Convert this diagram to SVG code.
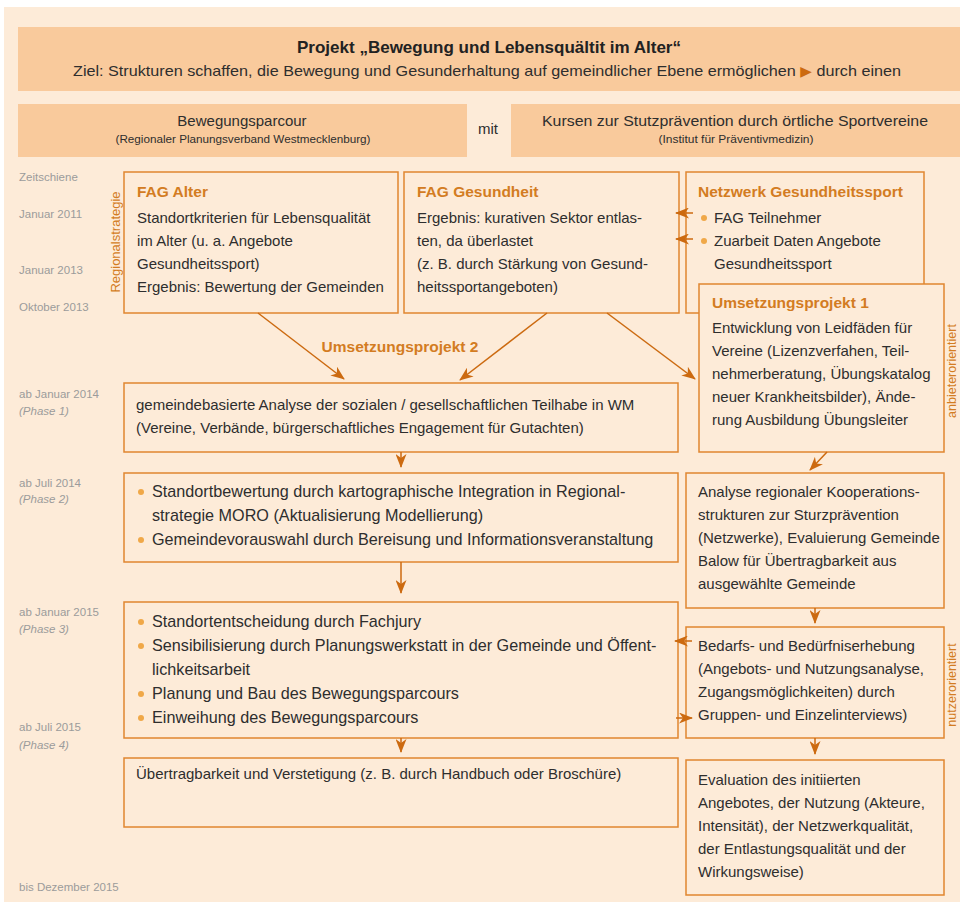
<svg xmlns="http://www.w3.org/2000/svg" width="960" height="902" viewBox="0 0 960 902">
<style>
text{font-family:"Liberation Sans",Arial,sans-serif;}
.bg{fill:#FDEBD8;}
.band{fill:#F9CA9C;}
.box{fill:#FDEBD8;stroke:#E0862F;stroke-width:1.5;}
.t{font-size:15px;fill:#2E2E2E;}
.tb{font-size:16.2px;fill:#2E2E2E;}
.h{font-size:15.5px;font-weight:bold;fill:#D37C22;}
.tl{font-size:11.5px;fill:#9B9B9B;}
.it{font-style:italic;}
.side{font-size:13px;fill:#D37C22;}
.side2{font-size:12.5px;fill:#D37C22;}
.sm{font-size:11px;fill:#2E2E2E;}
.dot{fill:#F0A848;}
.c{stroke:#CC6A10;stroke-width:1.5;fill:none;marker-end:url(#ah);}
</style>
<defs>
<marker id="ah" markerUnits="userSpaceOnUse" markerWidth="14" markerHeight="11" refX="13" refY="5.5" orient="auto">
<path d="M0,0 L14,5.5 L0,11 L4,5.5 z" fill="#CC6A10"/>
</marker>
</defs>
<rect x="0" y="0" width="960" height="902" fill="#ffffff"/>
<rect class="bg" x="4" y="7" width="956" height="895"/>

<g id="header">
<rect class="band" x="18" y="27" width="942" height="64"/>
<text x="489" y="52.5" text-anchor="middle" font-size="16.5" font-weight="bold" fill="#222" textLength="384" lengthAdjust="spacingAndGlyphs">Projekt „Bewegung und Lebensquältit im Alter“</text>
<text x="73" y="76" font-size="15" fill="#2E2E2E" textLength="828" lengthAdjust="spacingAndGlyphs">Ziel: Strukturen schaffen, die Bewegung und Gesunderhaltung auf gemeindlicher Ebene ermöglichen <tspan fill="#CC6A10" font-family="DejaVu Sans, sans-serif" font-size="14">▶</tspan> durch einen</text>
</g>

<g id="bewegungsparcour">
<rect class="band" x="18" y="104" width="449" height="53"/>
<text class="t" x="242" y="126" text-anchor="middle">Bewegungsparcour</text>
<text class="sm" x="243" y="143" text-anchor="middle" textLength="255" lengthAdjust="spacingAndGlyphs">(Regionaler Planungsverband Westmecklenburg)</text>
</g>
<g id="mit"><text class="t" x="488" y="134" text-anchor="middle">mit</text></g>
<g id="kursen">
<rect class="band" x="511" y="104" width="449" height="53"/>
<text class="t" x="735" y="126" text-anchor="middle" textLength="386" lengthAdjust="spacingAndGlyphs">Kursen zur Stutzprävention durch örtliche Sportvereine</text>
<text class="sm" x="736" y="143" text-anchor="middle" textLength="155" lengthAdjust="spacingAndGlyphs">(Institut für Präventivmedizin)</text>
</g>

<g id="timeline">
<text class="tl" x="19" y="181">Zeitschiene</text>
<text class="tl" x="19" y="218">Januar 2011</text>
<text class="tl" x="19" y="274">Januar 2013</text>
<text class="tl" x="19" y="311">Oktober 2013</text>
<text class="tl" x="19" y="398">ab Januar 2014</text>
<text class="tl it" x="19" y="415">(Phase 1)</text>
<text class="tl" x="19" y="487">ab Juli 2014</text>
<text class="tl it" x="19" y="503">(Phase 2)</text>
<text class="tl" x="19" y="616">ab Januar 2015</text>
<text class="tl it" x="19" y="633">(Phase 3)</text>
<text class="tl" x="19" y="731">ab Juli 2015</text>
<text class="tl it" x="19" y="749">(Phase 4)</text>
<text class="tl" x="19" y="891">bis Dezember 2015</text>
</g>

<g id="side-labels">
<text class="side" transform="translate(120,242) rotate(-90)" text-anchor="middle">Regionalstrategie</text>
<text class="side2" transform="translate(956,371) rotate(-90)" text-anchor="middle">anbieterorientiert</text>
<text class="side2" transform="translate(956,685) rotate(-90)" text-anchor="middle">nutzerorientiert</text>
</g>

<g id="fag-alter">
<rect class="box" x="124" y="172" width="274" height="141"/>
<text class="h" x="137" y="197">FAG Alter</text>
<text class="t" x="137" y="223">Standortkriterien für Lebensqualität</text>
<text class="t" x="137" y="246">im Alter (u. a. Angebote</text>
<text class="t" x="137" y="269">Gesundheitssport)</text>
<text class="t" x="137" y="292">Ergebnis: Bewertung der Gemeinden</text>
</g>

<g id="fag-gesundheit">
<rect class="box" x="404" y="172" width="275" height="141"/>
<text class="h" x="417" y="197">FAG Gesundheit</text>
<text class="t" x="417" y="223">Ergebnis: kurativen Sektor entlas-</text>
<text class="t" x="417" y="246">ten, da überlastet</text>
<text class="t" x="417" y="269">(z. B. durch Stärkung von Gesund-</text>
<text class="t" x="417" y="292">heitssportangeboten)</text>
</g>

<g id="netzwerk">
<rect class="box" x="686" y="172" width="238" height="141"/>
<text class="h" x="698" y="197">Netzwerk Gesundheitssport</text>
<circle class="dot" cx="704" cy="218" r="3"/>
<text class="t" x="714" y="223">FAG Teilnehmer</text>
<circle class="dot" cx="704" cy="241" r="3"/>
<text class="t" x="714" y="246">Zuarbeit Daten Angebote</text>
<text class="t" x="714" y="269">Gesundheitssport</text>
</g>

<g id="umsetzungsprojekt-1">
<rect class="box" x="699" y="284" width="245" height="168"/>
<text class="h" x="712" y="308">Umsetzungsprojekt 1</text>
<text class="t" x="712" y="333">Entwicklung von Leidfäden für</text>
<text class="t" x="712" y="356">Vereine (Lizenzverfahen, Teil-</text>
<text class="t" x="712" y="379">nehmerberatung, Übungskatalog</text>
<text class="t" x="712" y="402">neuer Krankheitsbilder), Ände-</text>
<text class="t" x="712" y="425">rung Ausbildung Übungsleiter</text>
</g>

<g id="umsetzungsprojekt-2-label">
<text class="h" x="400" y="352" text-anchor="middle">Umsetzungsprojekt 2</text>
</g>

<g id="phase1">
<rect class="box" x="124" y="383" width="554" height="69"/>
<text class="t" x="136" y="410">gemeindebasierte Analyse der sozialen / gesellschaftlichen Teilhabe in WM</text>
<text class="t" x="136" y="433">(Vereine, Verbände, bürgerschaftliches Engagement für Gutachten)</text>
</g>

<g id="phase2">
<rect class="box" x="124" y="473" width="554" height="89"/>
<circle class="dot" cx="141" cy="492" r="3"/>
<text class="tb" x="152" y="497">Standortbewertung durch kartographische Integration in Regional-</text>
<text class="tb" x="152" y="521">strategie MORO (Aktualisierung Modellierung)</text>
<circle class="dot" cx="141" cy="540" r="3"/>
<text class="tb" x="152" y="545">Gemeindevorauswahl durch Bereisung und Informationsveranstaltung</text>
</g>

<g id="analyse">
<rect class="box" x="686" y="473" width="258" height="135"/>
<text class="t" x="698" y="497">Analyse regionaler Kooperations-</text>
<text class="t" x="698" y="520">strukturen zur Sturzprävention</text>
<text class="t" x="698" y="543">(Netzwerke), Evaluierung Gemeinde</text>
<text class="t" x="698" y="566">Balow für Übertragbarkeit aus</text>
<text class="t" x="698" y="589">ausgewählte Gemeinde</text>
</g>

<g id="phase3">
<rect class="box" x="124" y="602" width="554" height="136"/>
<circle class="dot" cx="141" cy="622" r="3"/>
<text class="tb" x="152" y="627">Standortentscheidung durch Fachjury</text>
<circle class="dot" cx="141" cy="646" r="3"/>
<text class="tb" x="152" y="651">Sensibilisierung durch Planungswerkstatt in der Gemeinde und Öffent-</text>
<text class="tb" x="152" y="675">lichkeitsarbeit</text>
<circle class="dot" cx="141" cy="694" r="3"/>
<text class="tb" x="152" y="699">Planung und Bau des Bewegungsparcours</text>
<circle class="dot" cx="141" cy="718" r="3"/>
<text class="tb" x="152" y="723">Einweihung des Bewegungsparcours</text>
</g>

<g id="bedarfs">
<rect class="box" x="686" y="627" width="258" height="111"/>
<text class="t" x="698" y="651">Bedarfs- und Bedürfniserhebung</text>
<text class="t" x="698" y="674">(Angebots- und Nutzungsanalyse,</text>
<text class="t" x="698" y="697">Zugangsmöglichkeiten) durch</text>
<text class="t" x="698" y="720">Gruppen- und Einzelinterviews)</text>
</g>

<g id="phase4">
<rect class="box" x="124" y="758" width="554" height="69"/>
<text class="t" x="136" y="779">Übertragbarkeit und Verstetigung (z. B. durch Handbuch oder Broschüre)</text>
</g>

<g id="evaluation">
<rect class="box" x="686" y="760" width="258" height="135"/>
<text class="t" x="698" y="785">Evaluation des initiierten</text>
<text class="t" x="698" y="808">Angebotes, der Nutzung (Akteure,</text>
<text class="t" x="698" y="831">Intensität), der Netzwerkqualität,</text>
<text class="t" x="698" y="854">der Entlastungsqualität und der</text>
<text class="t" x="698" y="877">Wirkungsweise)</text>
</g>

<g id="connectors">
<line class="c" x1="258" y1="313" x2="344" y2="379"/>
<line class="c" x1="547" y1="313" x2="460" y2="380"/>
<line class="c" x1="607" y1="313" x2="695" y2="379"/>
<line class="c" x1="693" y1="213" x2="676" y2="213"/>
<line class="c" x1="693" y1="239" x2="676" y2="239"/>
<line class="c" x1="401" y1="452" x2="401" y2="467"/>
<line class="c" x1="401" y1="562" x2="401" y2="593"/>
<line class="c" x1="401" y1="738" x2="401" y2="752"/>
<line class="c" x1="827" y1="452" x2="810" y2="470"/>
<line class="c" x1="815" y1="608" x2="815" y2="623"/>
<line class="c" x1="815" y1="738" x2="815" y2="754"/>
<line class="c" x1="692" y1="641" x2="675" y2="641"/>
<line class="c" x1="676" y1="718" x2="692" y2="718"/>
</g>
</svg>
